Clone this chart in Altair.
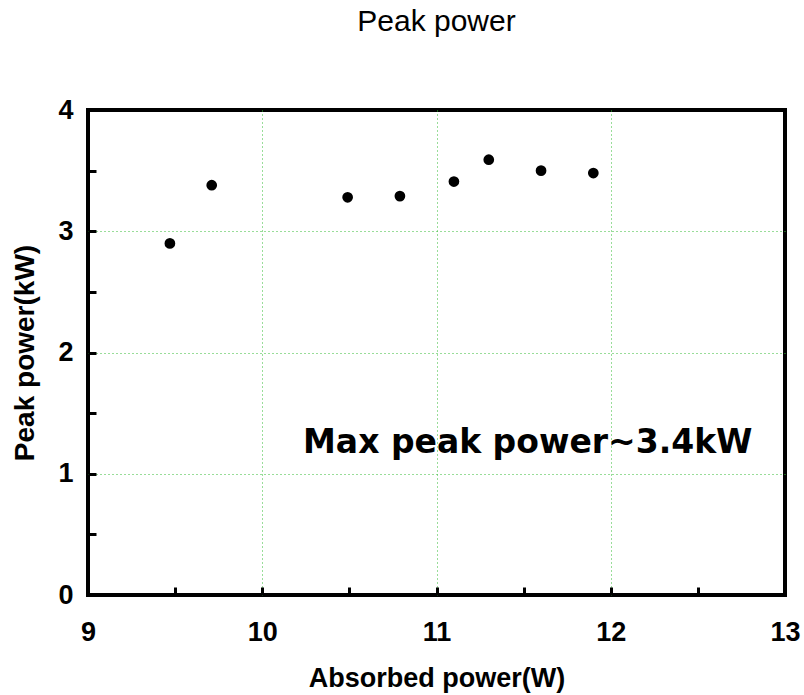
import altair as alt
import pandas as pd

absorbed = [9.47, 9.71, 10.49, 10.79, 11.10, 11.30, 11.60, 11.90]
peak = [2.90, 3.38, 3.28, 3.29, 3.41, 3.59, 3.50, 3.48]
x_ticks = [9, 9.5, 10, 10.5, 11, 11.5, 12, 12.5, 13]
y_ticks = [0, 0.5, 1, 1.5, 2, 2.5, 3, 3.5, 4]
note_text = ["Max peak power~3.4kW"]
note_x = [10.234]
note_y = [1.17]

df = pd.DataFrame({"x": absorbed, "y": peak})
note = pd.DataFrame({"x": note_x, "y": note_y, "t": note_text})

grid_x = {"condition": {"test": "datum.value % 1 == 0 && datum.value > 9 && datum.value < 13", "value": 1}, "value": 0}
grid_y = {"condition": {"test": "datum.value % 1 == 0 && datum.value > 0 && datum.value < 4", "value": 1}, "value": 0}
lab = "datum.value % 1 == 0 ? format(datum.value, 'd') : ''"

xaxis = alt.Axis(
    values=x_ticks, labelExpr=lab,
    title="Absorbed power(W)", offset=-8, tickSize=8, tickWidth=3, tickColor="black",
    domain=False, labelPadding=24, labelFont="Liberation Sans", labelFontSize=27,
    labelFontWeight="bold", labelColor="black", titleFont="Liberation Sans",
    titleFontSize=27, titleFontWeight="bold", titleColor="black", titlePadding=20,
    grid=True, gridColor="#33bb33", gridDash=[1, 3], gridWidth=1, gridOpacity=grid_x,
    labelFlush=False, labelOverlap=False,
)
yaxis = alt.Axis(
    values=y_ticks, labelExpr=lab,
    title="Peak power(kW)", offset=-8, tickSize=8, tickWidth=3, tickColor="black",
    domain=False, labelPadding=15, labelFont="Liberation Sans", labelFontSize=27,
    labelFontWeight="bold", labelColor="black", titleFont="Liberation Sans",
    titleFontSize=28, titleFontWeight="bold", titleColor="black", titlePadding=18,
    grid=True, gridColor="#33bb33", gridDash=[1, 3], gridWidth=1, gridOpacity=grid_y,
    labelFlush=False, labelOverlap=False,
)

points = alt.Chart(df).mark_circle(size=115, color="black", opacity=1).encode(
    x=alt.X("x:Q", scale=alt.Scale(domain=[9, 13], nice=False, zero=False), axis=xaxis),
    y=alt.Y("y:Q", scale=alt.Scale(domain=[0, 4], nice=False), axis=yaxis),
)

text = alt.Chart(note).mark_text(
    align="left", baseline="alphabetic", font="DejaVu Sans", fontSize=33,
    fontWeight="bold", color="black",
).encode(x="x:Q", y="y:Q", text="t:N")

chart = alt.layer(points, text).properties(
    width=697, height=485,
    background="white",
    autosize=alt.AutoSizeParams(type="none"),
    padding={"left": 88, "top": 110, "right": 19, "bottom": 100},
    title=alt.TitleParams("Peak power", font="Liberation Sans", fontSize=30,
                          fontWeight=500, color="black", offset=59, anchor="middle"),
).configure_view(stroke="black", strokeWidth=4)

chart.save("out.html", embed_options={"renderer": "svg", "actions": False})
